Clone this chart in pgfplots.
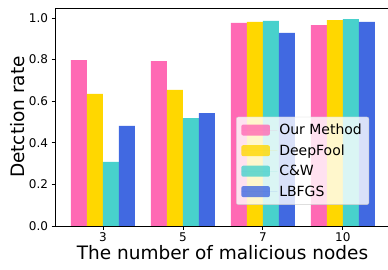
\documentclass[border=0pt]{standalone}
\usepackage{fontspec}
\setmainfont{DejaVu Sans}
\usepackage{pgfplots}
\pgfplotsset{compat=1.18}
\definecolor{cpink}{HTML}{FF69B4}
\definecolor{cgold}{HTML}{FFD700}
\definecolor{cturq}{HTML}{48D1CC}
\definecolor{cblue}{HTML}{4169E1}
\begin{document}
\begin{tikzpicture}
\path[use as bounding box] (0,0) rectangle (388pt,270pt);
\begin{axis}[
  at={(55pt,44pt)}, anchor=south west,
  scale only axis, width=335pt, height=218pt,
  xmin=-0.6, xmax=3.59, ymin=0, ymax=1.048,
  ybar, bar width=0.2,
  xtick={0,1,2,3}, xticklabels={3,5,7,10},
  ytick={0,0.2,0.4,0.6,0.8,1.0},
  yticklabel style={/pgf/number format/fixed,/pgf/number format/fixed zerofill,/pgf/number format/precision=1},
  /pgf/number format/assume math mode=true,
  tick label style={font=\fontsize{12}{14}\selectfont},
  xtick pos=left, ytick pos=left, tick align=outside,
  major tick length=3.5pt,
  axis line style={black, line width=0.8pt},
  major tick style={black, line width=0.8pt},
  xlabel={The number of malicious nodes},
  ylabel={Detction rate},
  label style={font=\fontsize{18.5}{20}\selectfont},
  xlabel style={at={(axis description cs:0.5,0)}, anchor=base, yshift=-34pt},
  ylabel style={at={(axis description cs:-0.0925,0.5)}, anchor=base},
  legend style={at={(0.937,0.5)}, anchor=north east, draw=black!20, rounded corners=2pt,
    fill=white, fill opacity=0.8, text opacity=1, font=\fontsize{14}{16}\selectfont,
    row sep=4.5pt, inner xsep=5pt, inner ysep=5pt, outer sep=0pt},
  legend cell align=left,
  legend image code/.code={\fill[#1] (0pt,-5.5pt) rectangle (28.7pt,5.5pt); \path (0pt,0pt) -- (36pt,0pt);},
]
\addplot[fill=cpink, draw=none, bar shift=-0.3] coordinates {(0,0.798) (1,0.793) (2,0.976) (3,0.966)};
\addplot[fill=cgold, draw=none, bar shift=-0.1] coordinates {(0,0.635) (1,0.654) (2,0.981) (3,0.990)};
\addplot[fill=cturq, draw=none, bar shift=0.1] coordinates {(0,0.308) (1,0.519) (2,0.986) (3,0.995)};
\addplot[fill=cblue, draw=none, bar shift=0.3] coordinates {(0,0.481) (1,0.543) (2,0.928) (3,0.981)};
\legend{Our Method, DeepFool, C\&W, LBFGS}
\end{axis}
\end{tikzpicture}
\end{document}
